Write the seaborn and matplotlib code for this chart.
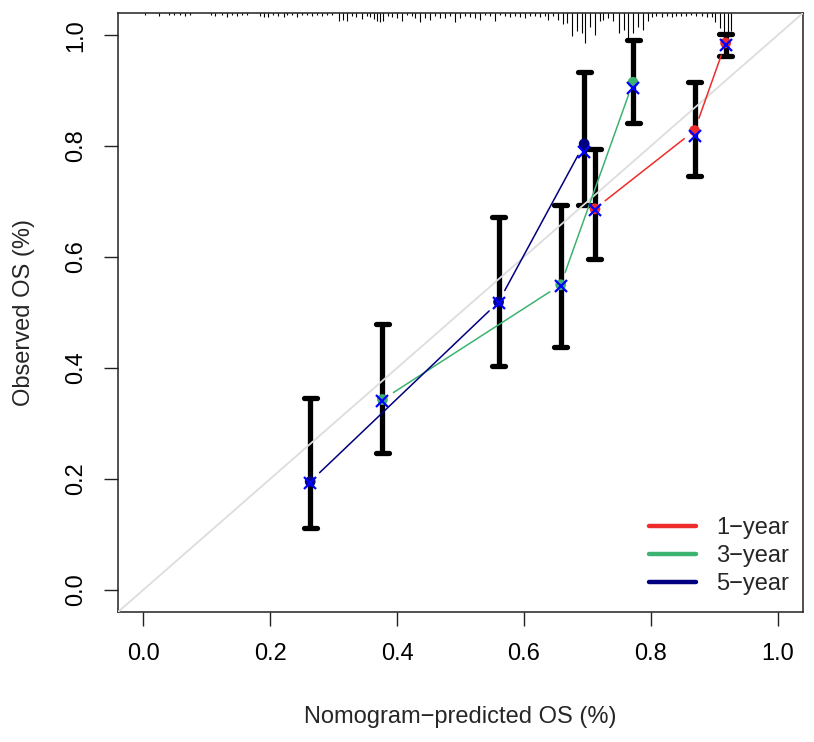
"""
Calibration plot: nomogram-predicted vs observed OS at 1, 3 and 5 years.
"""
import numpy as np
import matplotlib
matplotlib.use("Agg")
import matplotlib.pyplot as plt
from matplotlib.lines import Line2D
import seaborn as sns

# ── Data ──────────────────────────────────────────────────────────────────────
pred_1yr = [0.712, 0.869, 0.918]
obs_1yr = [0.687, 0.828, 0.986]
corr_1yr = [0.685, 0.818, 0.983]
lo_1yr = [0.597, 0.746, 0.962]
hi_1yr = [0.795, 0.915, 1.002]

pred_3yr = [0.377, 0.658, 0.772]
obs_3yr = [0.343, 0.550, 0.915]
corr_3yr = [0.341, 0.548, 0.905]
lo_3yr = [0.246, 0.438, 0.841]
hi_3yr = [0.479, 0.693, 0.992]

pred_5yr = [0.263, 0.560, 0.695]
obs_5yr = [0.195, 0.519, 0.804]
corr_5yr = [0.193, 0.518, 0.790]
lo_5yr = [0.112, 0.403, 0.694]
hi_5yr = [0.346, 0.672, 0.934]

# distribution of predicted values (top rug), relative heights
rug_x = [0.003, 0.024, 0.040, 0.048, 0.058, 0.066, 0.074, 0.106, 0.113, 0.124,
         0.132, 0.140, 0.148, 0.155, 0.163, 0.184, 0.190, 0.197, 0.205, 0.213,
         0.221, 0.226, 0.234, 0.242, 0.250, 0.258, 0.266, 0.274, 0.281, 0.289,
         0.297, 0.308, 0.314, 0.321, 0.329, 0.336, 0.344, 0.352, 0.357, 0.363,
         0.368, 0.373, 0.378, 0.386, 0.392, 0.400, 0.407, 0.415, 0.423, 0.429,
         0.436, 0.444, 0.452, 0.460, 0.468, 0.476, 0.483, 0.491, 0.499, 0.507,
         0.515, 0.523, 0.531, 0.539, 0.546, 0.554, 0.562, 0.570, 0.578, 0.586,
         0.594, 0.602, 0.609, 0.617, 0.625, 0.633, 0.638, 0.646, 0.654, 0.661,
         0.668, 0.676, 0.683, 0.691, 0.697, 0.704, 0.712, 0.720, 0.725, 0.733,
         0.741, 0.750, 0.758, 0.764, 0.772, 0.780, 0.788, 0.795, 0.802, 0.809,
         0.817, 0.825, 0.833, 0.840, 0.848, 0.856, 0.864, 0.872, 0.880, 0.888,
         0.896, 0.902, 0.909, 0.915, 0.922, 0.927]
rug_h = [2, 3, 2, 2, 2, 3, 2, 2, 3, 2,
         4, 2, 3, 2, 2, 3, 4, 4, 2, 3,
         4, 2, 2, 4, 2, 2, 3, 2, 3, 2,
         2, 8, 7, 8, 3, 4, 6, 3, 4, 6,
         8, 9, 8, 3, 4, 5, 8, 2, 3, 5,
         9, 5, 7, 3, 5, 5, 3, 9, 5, 3,
         4, 5, 7, 2, 3, 8, 2, 3, 4, 3,
         4, 5, 3, 3, 4, 3, 7, 3, 7, 11,
         10, 23, 18, 20, 30, 14, 22, 8, 7, 5,
         8, 20, 17, 25, 20, 14, 17, 8, 4, 3,
         4, 3, 4, 3, 3, 3, 2, 3, 3, 4,
         4, 9, 15, 20, 20, 18]

series_labels = ["1\u2212year", "3\u2212year", "5\u2212year"]
series_colors = ["#EE2C2C", "#3CB371", "#000080"]

# ── Style ─────────────────────────────────────────────────────────────────────
sns.set_theme(style="white")
plt.rcParams.update({
    "font.family": ["Liberation Sans", "DejaVu Sans"],
    "font.size": 17,
    "axes.edgecolor": "#222222",
    "axes.linewidth": 1.1,
    "xtick.color": "#222222",
    "ytick.color": "#222222",
    "xtick.labelcolor": "black",
    "ytick.labelcolor": "black",
})

W, H = 814, 742
fig = plt.figure(figsize=(W / 100, H / 100), dpi=100)
ax = fig.add_axes([118 / W, 1 - 612 / H, 685 / W, 599 / H])
ax.set_xlim(-0.04, 1.04)
ax.set_ylim(-0.04, 1.04)

px_per_y = 599 / 1.08

# error bars (drawn first, diagonal passes over them)
all_pred = pred_1yr + pred_3yr + pred_5yr
all_lo = lo_1yr + lo_3yr + lo_5yr
all_hi = hi_1yr + hi_3yr + hi_5yr
ax.vlines(all_pred, all_lo, all_hi, color="black", lw=3.8, zorder=2)
cap_half = 6.5 * 1.08 / 685
for xs, lo, hi in zip(all_pred, all_lo, all_hi):
    for yv in (lo, hi):
        ax.plot([xs - cap_half, xs + cap_half], [yv, yv], color="black",
                lw=3.8, solid_capstyle="round", zorder=2)

# reference diagonal
ax.plot([-0.04, 1.04], [-0.04, 1.04], color="#DDDDDD", lw=1.3, zorder=3)

# top rug of predicted distribution
rug_top = 1.04
ax.vlines(rug_x, [rug_top - h / px_per_y for h in rug_h], rug_top,
          color="black", lw=0.8, zorder=3)


def gapped_segments(xs, ys, gap=13):
    """Connect points like R type='b' (line with gaps around points)."""
    pts = ax.transData.transform(np.column_stack([xs, ys]))
    inv = ax.transData.inverted()
    segs = []
    for a, b in zip(pts[:-1], pts[1:]):
        d = b - a
        n = np.hypot(*d)
        if n <= 2 * gap:
            continue
        u = d / n
        segs.append(inv.transform(np.array([a + u * gap, b - u * gap])))
    return segs


for pred, obs, corr, col in zip([pred_1yr, pred_3yr, pred_5yr],
                                [obs_1yr, obs_3yr, obs_5yr],
                                [corr_1yr, corr_3yr, corr_5yr],
                                series_colors):
    for seg in gapped_segments(pred, obs):
        ax.plot(seg[:, 0], seg[:, 1], color=col, lw=1.1, zorder=4)
    sns.scatterplot(x=pred, y=obs, color=col, s=60, edgecolor="none",
                    ax=ax, zorder=5, legend=False)
    ax.plot(pred, corr, linestyle="none", marker="x", color="#0000FF",
            markersize=8, markeredgewidth=1.6, zorder=6)

ax.set_xticks([0.0, 0.2, 0.4, 0.6, 0.8, 1.0])
ax.set_yticks([0.0, 0.2, 0.4, 0.6, 0.8, 1.0])
ax.set_xticklabels(["0.0", "0.2", "0.4", "0.6", "0.8", "1.0"])
ax.set_yticklabels(["0.0", "0.2", "0.4", "0.6", "0.8", "1.0"],
                   rotation=90, va="center")
ax.tick_params(axis="both", direction="out", length=10, width=1.0,
               labelsize=17, pad=12, bottom=True, left=True)
ax.set_xlabel("Nomogram\u2212predicted OS (%)", fontsize=17, labelpad=30)
ax.set_ylabel("Observed OS (%)", fontsize=17, labelpad=22)
for sp in ax.spines.values():
    sp.set_visible(True)

handles = [Line2D([0], [0], color=c, lw=3.2, solid_capstyle="round")
           for c in series_colors]
ax.legend(handles, series_labels, loc="upper left", frameon=False,
          bbox_to_anchor=((649 - 118) / 685, 1 - (517 - 13) / 599),
          borderaxespad=0, borderpad=0, handlelength=2.0,
          handletextpad=0.85, labelspacing=0.26, fontsize=17)

fig.savefig("out.png", dpi=100, facecolor="white")
